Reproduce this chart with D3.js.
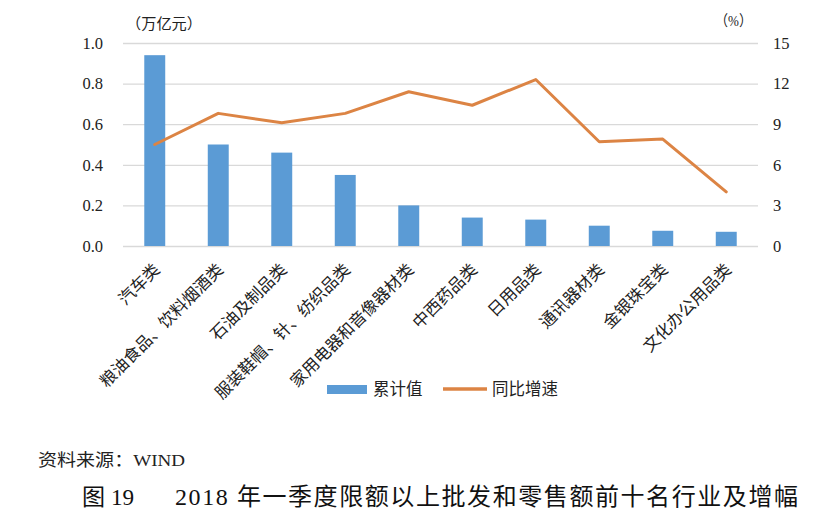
<!DOCTYPE html>
<html>
<head>
<meta charset="utf-8">
<script src="https://cdn.jsdelivr.net/npm/d3@7"></script>
<style>
  html, body { margin: 0; padding: 0; background: #fff; }
  svg { display: block; }
  .serif { font-family: "Liberation Serif", "Times New Roman", "Noto Sans CJK SC", serif; }
  .cjk { font-family: "Liberation Serif", "Noto Sans CJK SC", sans-serif; }
</style>
</head>
<body>
<svg id="chart" width="823" height="531"></svg>
<script>
const categories = ["汽车类", "粮油食品、饮料烟酒类", "石油及制品类", "服装鞋帽、针、纺织品类", "家用电器和音像器材类", "中西药品类", "日用品类", "通讯器材类", "金银珠宝类", "文化办公用品类"];
const cumulativeValues = [0.94, 0.50, 0.46, 0.35, 0.20, 0.14, 0.13, 0.10, 0.075, 0.07];
const yoyGrowth = [7.5, 9.8, 9.1, 9.8, 11.4, 10.4, 12.3, 7.7, 7.9, 4.0];
const leftTicks = [0, 0.2, 0.4, 0.6, 0.8, 1.0];
const rightTicks = [0, 3, 6, 9, 12, 15];
const seriesNames = ["累计值", "同比增速"];
const leftUnit = "（万亿元）";
const rightUnit = "（%）";
const sourceText = "资料来源：WIND";
const figLabel = "图 19";
const titleText = "2018 年一季度限额以上批发和零售额前十名行业及增幅";

(function () {
const svg = d3.select("#chart");
const pL = 123, pR = 758, pT = 43, pB = 246;
const barColor = "#5b9bd5", lineColor = "#dc8444", gridColor = "#d9d9d9";

const x = d3.scaleBand().domain(categories).range([pL, pR]).paddingInner(0.67).paddingOuter(0.335);
const yL = d3.scaleLinear().domain([0, 1]).range([pB, pT]);
const yR = d3.scaleLinear().domain([0, 15]).range([pB, pT]);

// gridlines
svg.append("g")
  .attr("transform", `translate(${pL},0)`)
  .call(d3.axisLeft(yL).tickValues(leftTicks).tickSize(-(pR - pL)).tickFormat(""))
  .call(g => g.select(".domain").remove())
  .call(g => g.selectAll("line").attr("stroke", gridColor).attr("stroke-width", 1.3));

// left axis labels
svg.append("g")
  .attr("transform", `translate(${pL - 20},0)`)
  .call(d3.axisLeft(yL).tickValues(leftTicks).tickSize(0).tickPadding(0).tickFormat(d3.format(".1f")))
  .call(g => g.select(".domain").remove())
  .call(g => g.selectAll("text").attr("class", "serif").attr("font-size", 16.5).attr("fill", "#222"));

// right axis labels
svg.append("g")
  .attr("transform", `translate(${pR + 15},0)`)
  .call(d3.axisRight(yR).tickValues(rightTicks).tickSize(0).tickPadding(0).tickFormat(d3.format("d")))
  .call(g => g.select(".domain").remove())
  .call(g => g.selectAll("text").attr("class", "serif").attr("font-size", 16.5).attr("fill", "#222"));

// bars
svg.append("g").selectAll("rect")
  .data(categories)
  .join("rect")
  .attr("x", d => x(d))
  .attr("width", x.bandwidth())
  .attr("y", (d, i) => yL(cumulativeValues[i]))
  .attr("height", (d, i) => pB - yL(cumulativeValues[i]))
  .attr("fill", barColor);

// line
const line = d3.line()
  .x((d, i) => x(categories[i]) + x.bandwidth() / 2)
  .y(d => yR(d));
svg.append("path")
  .datum(yoyGrowth)
  .attr("d", line)
  .attr("fill", "none")
  .attr("stroke", lineColor)
  .attr("stroke-width", 3)
  .attr("stroke-linejoin", "round")
  .attr("stroke-linecap", "round");

// category labels
svg.append("g").selectAll("text")
  .data(categories)
  .join("text")
  .attr("class", "cjk")
  .attr("font-size", 16.6)
  .attr("fill", "#222")
  .attr("text-anchor", "end")
  .attr("dominant-baseline", "central")
  .attr("transform", d => `translate(${x(d) + x.bandwidth() / 2 + 2},${pB + 21}) rotate(-45)`)
  .text(d => d);

// unit labels
svg.append("text").attr("class", "cjk").attr("x", 126).attr("y", 29)
  .attr("font-size", 15).attr("fill", "#222").attr("textLength", 76).attr("lengthAdjust", "spacingAndGlyphs")
  .text(leftUnit);
svg.append("text").attr("class", "cjk").attr("x", 715).attr("y", 26)
  .attr("font-size", 15).attr("fill", "#222").attr("textLength", 37).attr("lengthAdjust", "spacingAndGlyphs")
  .text(rightUnit);

// legend
const lg = svg.append("g");
lg.append("rect").attr("x", 327).attr("y", 385).attr("width", 40).attr("height", 9).attr("fill", barColor);
lg.append("text").attr("class", "cjk").attr("x", 373).attr("y", 389.5).attr("dominant-baseline", "central")
  .attr("font-size", 16.5).attr("fill", "#222").text(seriesNames[0]);
lg.append("line").attr("x1", 443).attr("x2", 487).attr("y1", 389).attr("y2", 389)
  .attr("stroke", lineColor).attr("stroke-width", 3.5);
lg.append("text").attr("class", "cjk").attr("x", 492).attr("y", 389.5).attr("dominant-baseline", "central")
  .attr("font-size", 16.5).attr("fill", "#222").text(seriesNames[1]);

// source and title
svg.append("text").attr("class", "cjk").attr("x", 38).attr("y", 466)
  .attr("font-size", 17).attr("fill", "#222").attr("textLength", 147).attr("lengthAdjust", "spacingAndGlyphs")
  .text(sourceText);
svg.append("text").attr("class", "cjk").attr("x", 82).attr("y", 505)
  .attr("font-size", 23).attr("fill", "#111").attr("textLength", 52).attr("lengthAdjust", "spacingAndGlyphs")
  .text(figLabel);
svg.append("text").attr("class", "cjk").attr("x", 175).attr("y", 505)
  .attr("font-size", 24).attr("fill", "#111").attr("textLength", 623).attr("lengthAdjust", "spacing")
  .text(titleText);
})();
</script>
</body>
</html>
